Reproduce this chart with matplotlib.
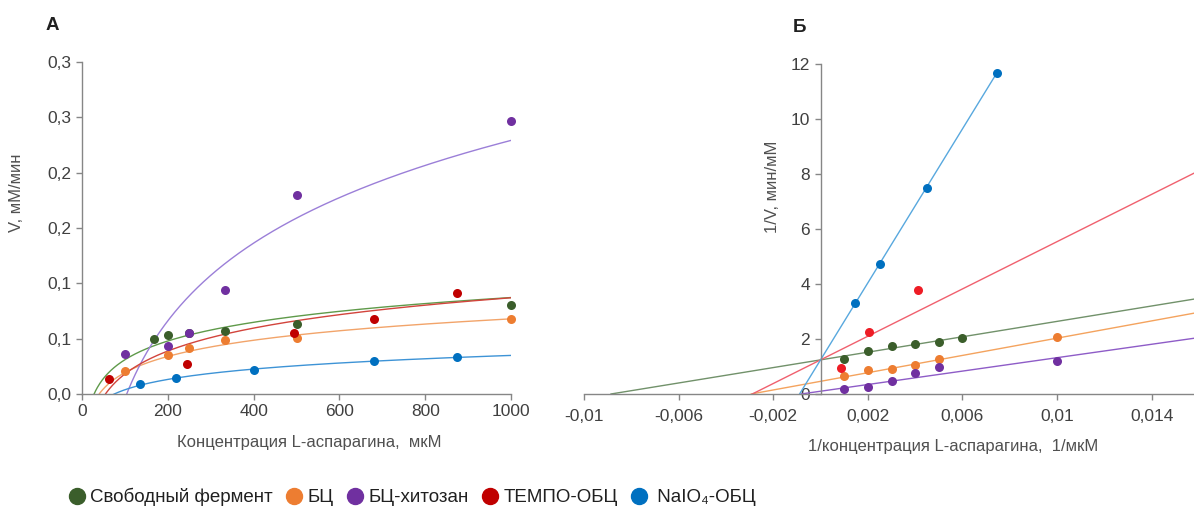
import numpy as np
import matplotlib
matplotlib.use('Agg')
import matplotlib.pyplot as plt
from matplotlib.lines import Line2D

plt.rcParams['font.family'] = ['Liberation Sans', 'DejaVu Sans']

# series names and colours
names = ['Свободный фермент', 'БЦ', 'БЦ-хитозан', 'ТЕМПО-ОБЦ', ' NaIO₄-ОБЦ']
dot_col = ['#3b5e2b', '#ed7d31', '#7030a0', '#c00000', '#0070c0']
curve_col = ['#5f9a4a', '#f2a46a', '#9b7fd8', '#d2443c', '#3d93d6']
line_col = ['#71916a', '#f4a35e', '#8e5cc7', '#f0606e', '#58a8de']
dot_col_b = ['#3b5e2b', '#ed7d31', '#7030a0', '#ee1c25', '#0070c0']

# A: V vs concentration of L-asparagine (uM)
conc = [
    [167, 200, 250, 333, 500, 1000],
    [100, 200, 250, 333, 500, 1000],
    [100, 200, 250, 333, 500, 1000],
    [64, 244, 493, 681, 873],
    [136, 220, 400, 681, 873],
]
vel = [
    [0.0496, 0.0532, 0.0555, 0.0571, 0.0634, 0.0800],
    [0.0212, 0.0348, 0.0415, 0.0484, 0.0505, 0.0676],
    [0.0365, 0.0436, 0.0550, 0.0940, 0.1800, 0.2470],
    [0.0133, 0.0271, 0.0550, 0.0676, 0.0910],
    [0.0088, 0.0142, 0.0219, 0.0300, 0.0334],
]
# log trendlines V = a*ln(S) + b
log_a = [0.0244, 0.02109, 0.1013, 0.0299, 0.01347]
log_b = [-0.0814, -0.0778, -0.4706, -0.1196, -0.0582]

# Б: Lineweaver-Burk
inv_s = [
    [0.001, 0.002, 0.003, 0.004, 0.005, 0.006],
    [0.001, 0.002, 0.003, 0.004, 0.005, 0.01],
    [0.001, 0.002, 0.003, 0.004, 0.005, 0.01],
    [0.00085, 0.00204, 0.0041],
    [0.00147, 0.0025, 0.00451, 0.00745],
]
inv_v = [
    [1.26, 1.56, 1.74, 1.82, 1.90, 2.02],
    [0.64, 0.87, 0.91, 1.04, 1.26, 2.06],
    [0.17, 0.24, 0.47, 0.77, 0.97, 1.19],
    [0.93, 2.24, 3.77],
    [3.31, 4.72, 7.48, 11.68],
]
lin_k = [140, 157, 122, 430, 1400]
lin_b = [1.24, 0.46, 0.10, 1.24, 1.24]
lin_end = [0.016, 0.016, 0.016, 0.016, 0.0075]

ax_col = '#868686'
txt_col = '#404040'

fig = plt.figure(figsize=(11.94, 5.11), dpi=100)
ax1 = fig.add_axes([0.0687, 0.2290, 0.3593, 0.6497])
ax2 = fig.add_axes([0.4891, 0.2290, 0.5151, 0.6458])

for ax in (ax1, ax2):
    for s in ('top', 'right'):
        ax.spines[s].set_visible(False)
    for s in ('left', 'bottom'):
        ax.spines[s].set_color(ax_col)
        ax.spines[s].set_linewidth(1.0)
    ax.tick_params(colors=ax_col, labelcolor=txt_col, labelsize=12.5,
                   length=4, width=1.0, direction='out')

# --- panel A ---
s = np.linspace(20, 1000, 500)
for i in range(5):
    ax1.plot(s, log_a[i] * np.log(s) + log_b[i], color=curve_col[i], lw=1.0, zorder=2)
for i in range(5):
    ax1.plot(conc[i], vel[i], 'o', color=dot_col[i], ms=6.5, mec='none', zorder=3,
             clip_on=False)

ax1.set_xlim(0, 1000)
ax1.set_ylim(0, 0.3)
ax1.set_xticks([0, 200, 400, 600, 800, 1000])
ax1.set_yticks([0, 0.05, 0.1, 0.15, 0.2, 0.25, 0.3])
ax1.set_yticklabels(['0,0', '0,1', '0,1', '0,2', '0,2', '0,3', '0,3'])
ax1.set_xlabel('Концентрация L-аспарагина,  мкМ', fontsize=12, color='#505050')
ax1.set_ylabel('V, мМ/мин', fontsize=12, color='#505050')
ax1.xaxis.set_label_coords(0.53, -0.125)
ax1.yaxis.set_label_coords(-0.135, 0.605)
ax1.text(-0.07, 1.11, 'А', transform=ax1.transAxes, fontsize=13.5,
         fontweight='bold', color='#202020', ha='center', va='center')

# --- panel Б ---
for i in range(5):
    x0 = -lin_b[i] / lin_k[i]
    xx = np.array([x0, lin_end[i]])
    ax2.plot(xx, lin_k[i] * xx + lin_b[i], color=line_col[i], lw=1.0, zorder=2)
for i in range(5):
    ax2.plot(inv_s[i], inv_v[i], 'o', color=dot_col_b[i], ms=6.5, mec='none', zorder=3)

ax2.set_xlim(-0.01, 0.016)
ax2.set_ylim(0, 12)
ax2.spines['left'].set_position(('data', 0))
ax2.set_xticks([-0.01, -0.006, -0.002, 0.002, 0.006, 0.01, 0.014])
ax2.set_xticklabels(['-0,01', '-0,006', '-0,002', '0,002', '0,006', '0,01', '0,014'])
ax2.set_yticks([0, 2, 4, 6, 8, 10, 12])
ax2.tick_params(axis='x', pad=7)
ax2.set_xlabel('1/концентрация L-аспарагина,  1/мкМ', fontsize=12, color='#505050')
ax2.set_ylabel('1/V, мин/мМ', fontsize=12, color='#505050')
ax2.xaxis.set_label_coords(0.60, -0.135)
ax2.yaxis.set_label_coords(0.318, 0.627)
ax2.text(0.35, 1.11, 'Б', transform=ax2.transAxes, fontsize=13.5,
         fontweight='bold', color='#202020', ha='center', va='center')

# shared legend at the bottom
handles = [Line2D([], [], ls='none', marker='o', ms=11.5, color=c, mec=c)
           for c in dot_col]
fig.legend(handles, names, loc='center', bbox_to_anchor=(0.345, 0.027), ncol=5,
           frameon=False, fontsize=13.5, handletextpad=0.2, columnspacing=0.65,
           handlelength=1.0, labelcolor='#202020')

fig.savefig('out.png', dpi=100)
